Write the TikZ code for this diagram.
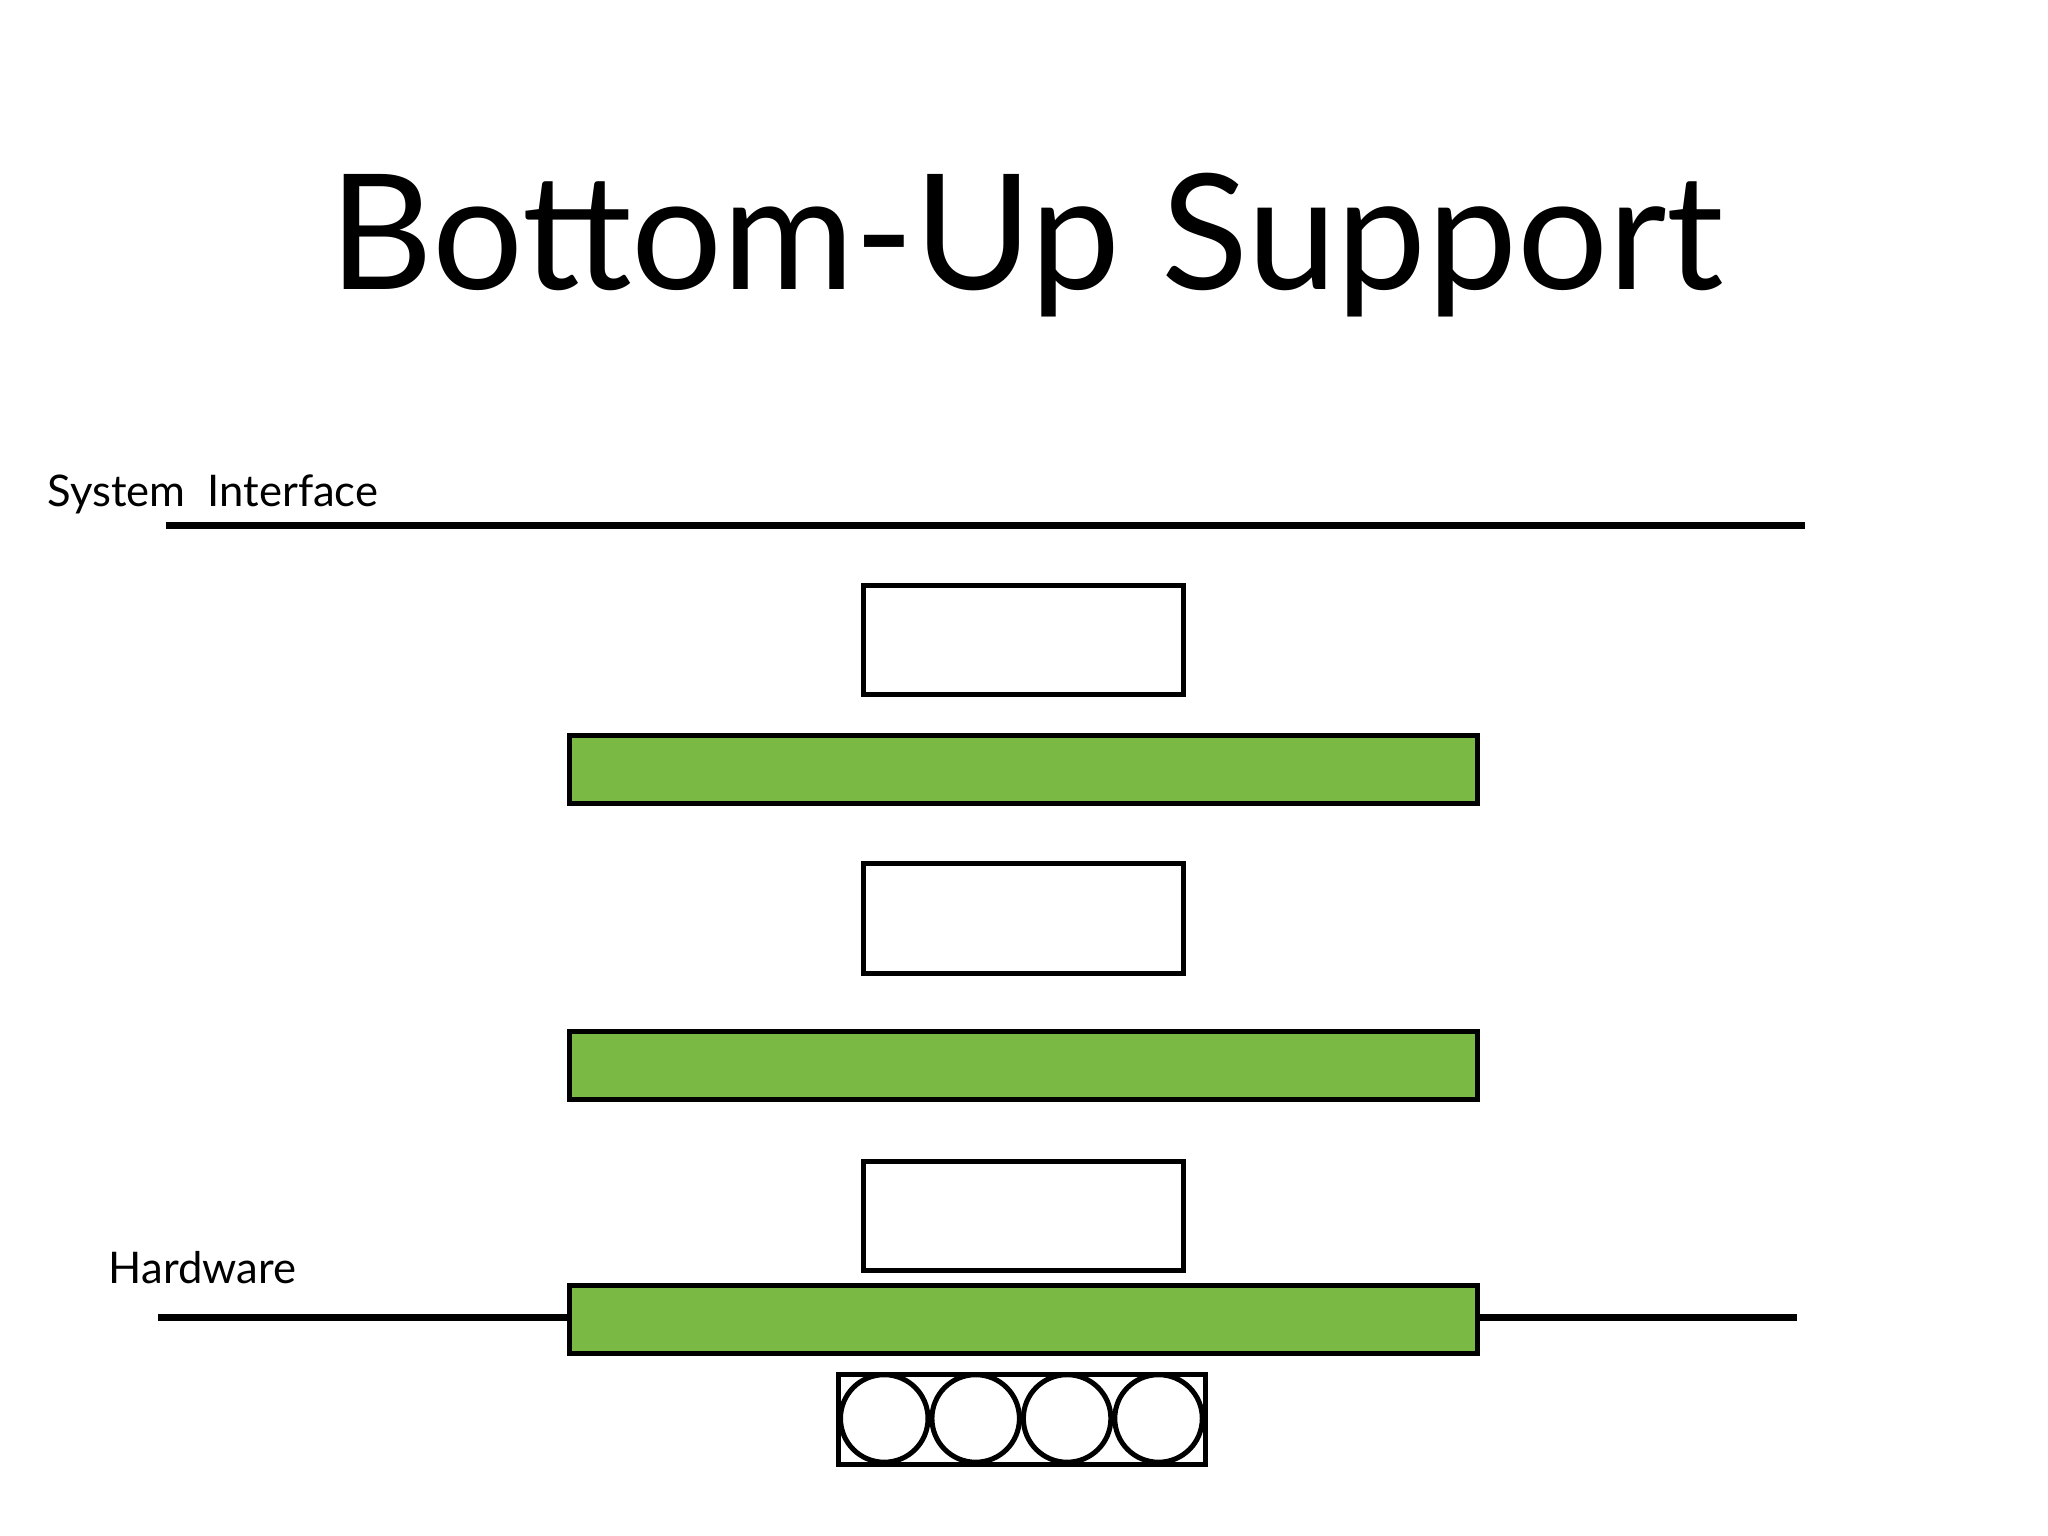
\documentclass[tikz,border=0pt]{standalone}
\usepackage{fontspec}
\setmainfont{Lato}
\begin{document}
\begin{tikzpicture}[x=0.02cm,y=-0.02cm,
  wbox/.style={draw=black,line width=2.2pt,fill=white},
  gbox/.style={draw=black,line width=2.2pt,fill=barg},
  rule/.style={line width=3pt}]
\definecolor{barg}{HTML}{7AB943}
\useasboundingbox (0,0) rectangle (1568,1176);
\node[anchor=base,font=\fontsize{70}{80}\selectfont] (title) at (786,222) {Bottom-Up Support};
\node[anchor=base west,inner sep=0,font=\fontsize{19}{22}\selectfont] (sys) at (36,388) {System\ \ Interface};
\node[anchor=base west,inner sep=0,font=\fontsize{19}{22}\selectfont] (hw) at (83,983) {Hardware};
\coordinate (s1) at (127,402); \coordinate (s2) at (1382,402);
\draw[rule] (s1) -- (s2);
\draw[wbox] (661,448) rectangle (906,532);
\draw[gbox] (436,563) rectangle (1131,615);
\draw[wbox] (661,661) rectangle (906,745);
\draw[gbox] (436,790) rectangle (1131,842);
\draw[wbox] (661,889) rectangle (906,973);
\coordinate (h1) at (121,1009); \coordinate (h2) at (436,1009);
\coordinate (h3) at (1131,1009); \coordinate (h4) at (1376,1009);
\draw[rule] (h1) -- (h2); \draw[rule] (h3) -- (h4);
\draw[gbox] (436,984) rectangle (1131,1036);
\draw[wbox] (642,1052) rectangle (923,1121);
\foreach \cx in {677,747,817,887} \draw[wbox] (\cx,1086) circle (33.5);
\end{tikzpicture}
\end{document}
